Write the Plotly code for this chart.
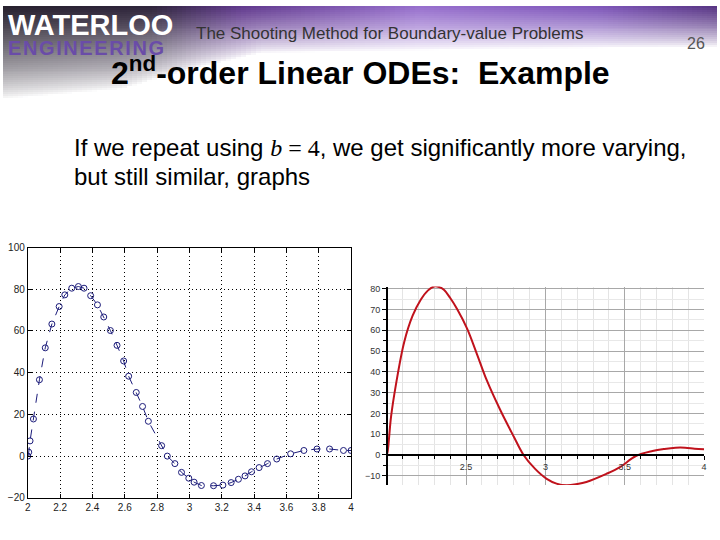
import plotly.graph_objects as go

# ---- data: left plot (MATLAB-style, adaptive-step solution markers) ----
left_x = [2.0, 2.006, 2.014, 2.035, 2.072, 2.108, 2.149, 2.194, 2.229, 2.272, 2.313, 2.348,
          2.389, 2.431, 2.470, 2.511, 2.552, 2.593, 2.624, 2.671, 2.710, 2.746, 2.828,
          2.863, 2.910, 2.951, 2.996, 3.029, 3.074, 3.149, 3.207, 3.258, 3.303, 3.344,
          3.384, 3.431, 3.483, 3.540, 3.626, 3.708, 3.789, 3.867, 3.953, 4.0]
left_y = [0.0, 1.9, 7.3, 17.8, 36.6, 51.9, 63.3, 71.7, 77.3, 80.5, 81.3, 80.5,
          76.9, 72.5, 66.7, 60.2, 53.1, 45.6, 38.3, 30.5, 23.8, 16.7, 5.0,
          0.0, -3.6, -7.8, -10.6, -12.5, -14.1, -14.2, -13.9, -12.7, -11.1, -9.5,
          -7.5, -5.5, -3.6, -1.4, 1.1, 2.7, 3.4, 3.4, 2.7, 2.7]

# ---- data: right plot (Maple-style smooth curve) ----
right_x = [2.0, 2.006, 2.027, 2.058, 2.11, 2.163, 2.215, 2.26, 2.298, 2.33, 2.36, 2.40,
           2.444, 2.507, 2.57, 2.632, 2.716, 2.8, 2.862, 2.935, 3.008, 3.07, 3.133,
           3.2, 3.258, 3.384, 3.467, 3.57, 3.675, 3.75, 3.82, 3.88, 3.94, 4.0]
right_y = [0.0, 1.9, 18.4, 34.0, 54.4, 67.0, 74.8, 79.2, 81.1, 80.8, 79.5, 75.5,
           70.1, 60.7, 48.2, 35.6, 21.5, 8.9, 0.0, -6.7, -11.5, -13.8, -14.6,
           -14.0, -13.0, -9.1, -6.0, -0.5, 1.9, 2.9, 3.5, 3.5, 3.0, 2.7]

left_xticks = [2.0, 2.2, 2.4, 2.6, 2.8, 3.0, 3.2, 3.4, 3.6, 3.8, 4.0]
left_xlabels = ["2", "2.2", "2.4", "2.6", "2.8", "3", "3.2", "3.4", "3.6", "3.8", "4"]
left_yticks = [-20, 0, 20, 40, 60, 80, 100]
right_xticks = [2.5, 3.0, 3.5, 4.0]
right_xlabels = ["2.5", "3", "3.5", "4"]
right_yticks = [-10, 0, 10, 20, 30, 40, 50, 60, 70, 80]

W, H = 720, 540
def px(x):
    return x / W
def py(y):
    return 1 - y / H

# ---- decorative header banner (smooth colour wash, purely styling) ----
HDR_H = 96
COLS, ROWS = 144, 48
def lerp(a, b, t):
    return a + (b - a) * t
def base_col(x):
    stops = [(0, (38, 32, 45)), (150, (45, 35, 58)), (240, (95, 55, 140)),
             (420, (150, 110, 205)), (600, (125, 85, 185)), (720, (85, 50, 130))]
    for (x0, c0), (x1, c1) in zip(stops[:-1], stops[1:]):
        if x <= x1:
            t = (x - x0) / (x1 - x0)
            return tuple(lerp(c0[k], c1[k], t) for k in range(3))
    return stops[-1][1]
def fade_y(x):
    stops = [(0, 95), (120, 85), (200, 62), (260, 48), (500, 44), (720, 42)]
    for (x0, f0), (x1, f1) in zip(stops[:-1], stops[1:]):
        if x <= x1:
            return lerp(f0, f1, (x - x0) / (x1 - x0))
    return stops[-1][1]
banner = []
for r in range(ROWS):
    yy = (r + 0.5) * HDR_H / ROWS
    row = []
    for c in range(COLS):
        xx = (c + 0.5) * W / COLS
        col = base_col(xx)
        a = max(0.0, 1 - yy / fade_y(xx)) ** 0.75
        row.append([int(round(lerp(255, col[k], a))) for k in range(3)])
    banner.append(row)

fig = go.Figure()

fig.add_trace(go.Image(z=banner, zsmooth="fast", xaxis="x3", yaxis="y3", hoverinfo="skip"))

fig.add_trace(go.Scatter(
    x=left_x, y=left_y, mode="lines+markers",
    line=dict(color="#1c1c7a", width=1, dash="dash"),
    marker=dict(symbol="circle-open", size=6, color="#1c1c7a", line=dict(width=1)),
    xaxis="x", yaxis="y", showlegend=False, hoverinfo="skip"))

fig.add_trace(go.Scatter(
    x=right_x, y=right_y, mode="lines", line=dict(color="#c0121c", width=2, shape="spline"),
    xaxis="x2", yaxis="y2", showlegend=False, hoverinfo="skip"))

logo = ('<span style="font-size:29px;color:#ffffff"><b>WATERLOO</b></span><br>'
        '<span style="font-size:20px;color:#6a4ca8;letter-spacing:1.6px"><b>ENGINEERING</b></span>')

annotations = [
    dict(text=logo, x=px(3), y=py(29), xanchor="left", yanchor="middle", align="left",
         font=dict(family="Liberation Sans", size=15.3, color="white")),
    dict(text="The Shooting Method for Boundary-value Problems", x=px(390), y=py(28),
         xanchor="center", yanchor="middle",
         font=dict(family="Liberation Sans", size=17, color="#333333")),
    dict(text="26", x=px(699), y=py(38), xanchor="center", yanchor="middle",
         font=dict(family="Liberation Sans", size=16, color="#555555")),
    dict(text="<b>2<sup>nd</sup>-order Linear ODEs:  Example</b>", x=px(360), y=py(66),
         xanchor="center", yanchor="middle",
         font=dict(family="Liberation Sans", size=32, color="black")),
    dict(text='If we repeat using <span style="font-family:Liberation Serif"><i>b</i> = 4</span>, '
              'we get significantly more varying,',
         x=px(70), y=py(145), xanchor="left", yanchor="middle",
         font=dict(family="Liberation Sans", size=24, color="black")),
    dict(text="but still similar, graphs", x=px(70), y=py(174), xanchor="left", yanchor="middle",
         font=dict(family="Liberation Sans", size=24, color="black")),
]
for a in annotations:
    a.update(xref="paper", yref="paper", showarrow=False)

fig.update_layout(
    width=W, height=H, margin=dict(l=0, r=0, t=0, b=0),
    paper_bgcolor="white", plot_bgcolor="rgba(0,0,0,0)",
    annotations=annotations,
    xaxis3=dict(domain=[0, 1], range=[-0.5, COLS - 0.5], anchor="y3", visible=False,
                fixedrange=True),
    yaxis3=dict(domain=[py(HDR_H), 1], range=[ROWS - 0.5, -0.5], anchor="x3", visible=False,
                scaleanchor=False, fixedrange=True, autorange=False),
    xaxis=dict(domain=[px(25), px(351)], range=[2, 4], anchor="y",
               tickvals=left_xticks, ticktext=left_xlabels,
               showline=True, linecolor="black", linewidth=1, mirror="ticks",
               ticks="inside", ticklen=4, tickcolor="black",
               showgrid=True, gridcolor="black", griddash="1px,3px", gridwidth=1,
               zeroline=False, tickfont=dict(family="Liberation Sans", size=10, color="#222")),
    yaxis=dict(domain=[py(503), py(247)], range=[-20, 100], anchor="x",
               tickvals=left_yticks,
               showline=True, linecolor="black", linewidth=1, mirror="ticks",
               ticks="inside", ticklen=4, tickcolor="black",
               showgrid=True, gridcolor="black", griddash="1px,3px", gridwidth=1,
               zeroline=False, tickfont=dict(family="Liberation Sans", size=10, color="#222")),
    xaxis2=dict(domain=[px(387), px(707)], range=[2, 4], anchor="free", position=py(459),
                tickvals=right_xticks, ticktext=right_xlabels,
                showline=True, linecolor="black", linewidth=1.5,
                ticks="outside", ticklen=4, tickcolor="black",
                showgrid=True, gridcolor="#a8a8a8", gridwidth=1,
                minor=dict(dtick=0.1, showgrid=True, gridcolor="#e4e4e4", ticks="outside",
                           ticklen=3, tickcolor="black"),
                zeroline=False, tickfont=dict(family="Liberation Sans", size=9, color="#333")),
    yaxis2=dict(domain=[py(490), py(287)], range=[-14.5, 81], anchor="free", position=px(387),
                tickvals=right_yticks,
                showline=True, linecolor="black", linewidth=1.5,
                ticks="outside", ticklen=4, tickcolor="black",
                showgrid=True, gridcolor="#a8a8a8", gridwidth=1,
                minor=dict(dtick=5, showgrid=True, gridcolor="#e8e8e8", ticks="outside",
                           ticklen=3, tickcolor="black"),
                zeroline=False, tickfont=dict(family="Liberation Sans", size=9, color="#333")),
)

fig.write_html("out.html", config={"displayModeBar": False},
               post_script="document.body.style.margin='0';document.body.style.overflow='hidden';")
